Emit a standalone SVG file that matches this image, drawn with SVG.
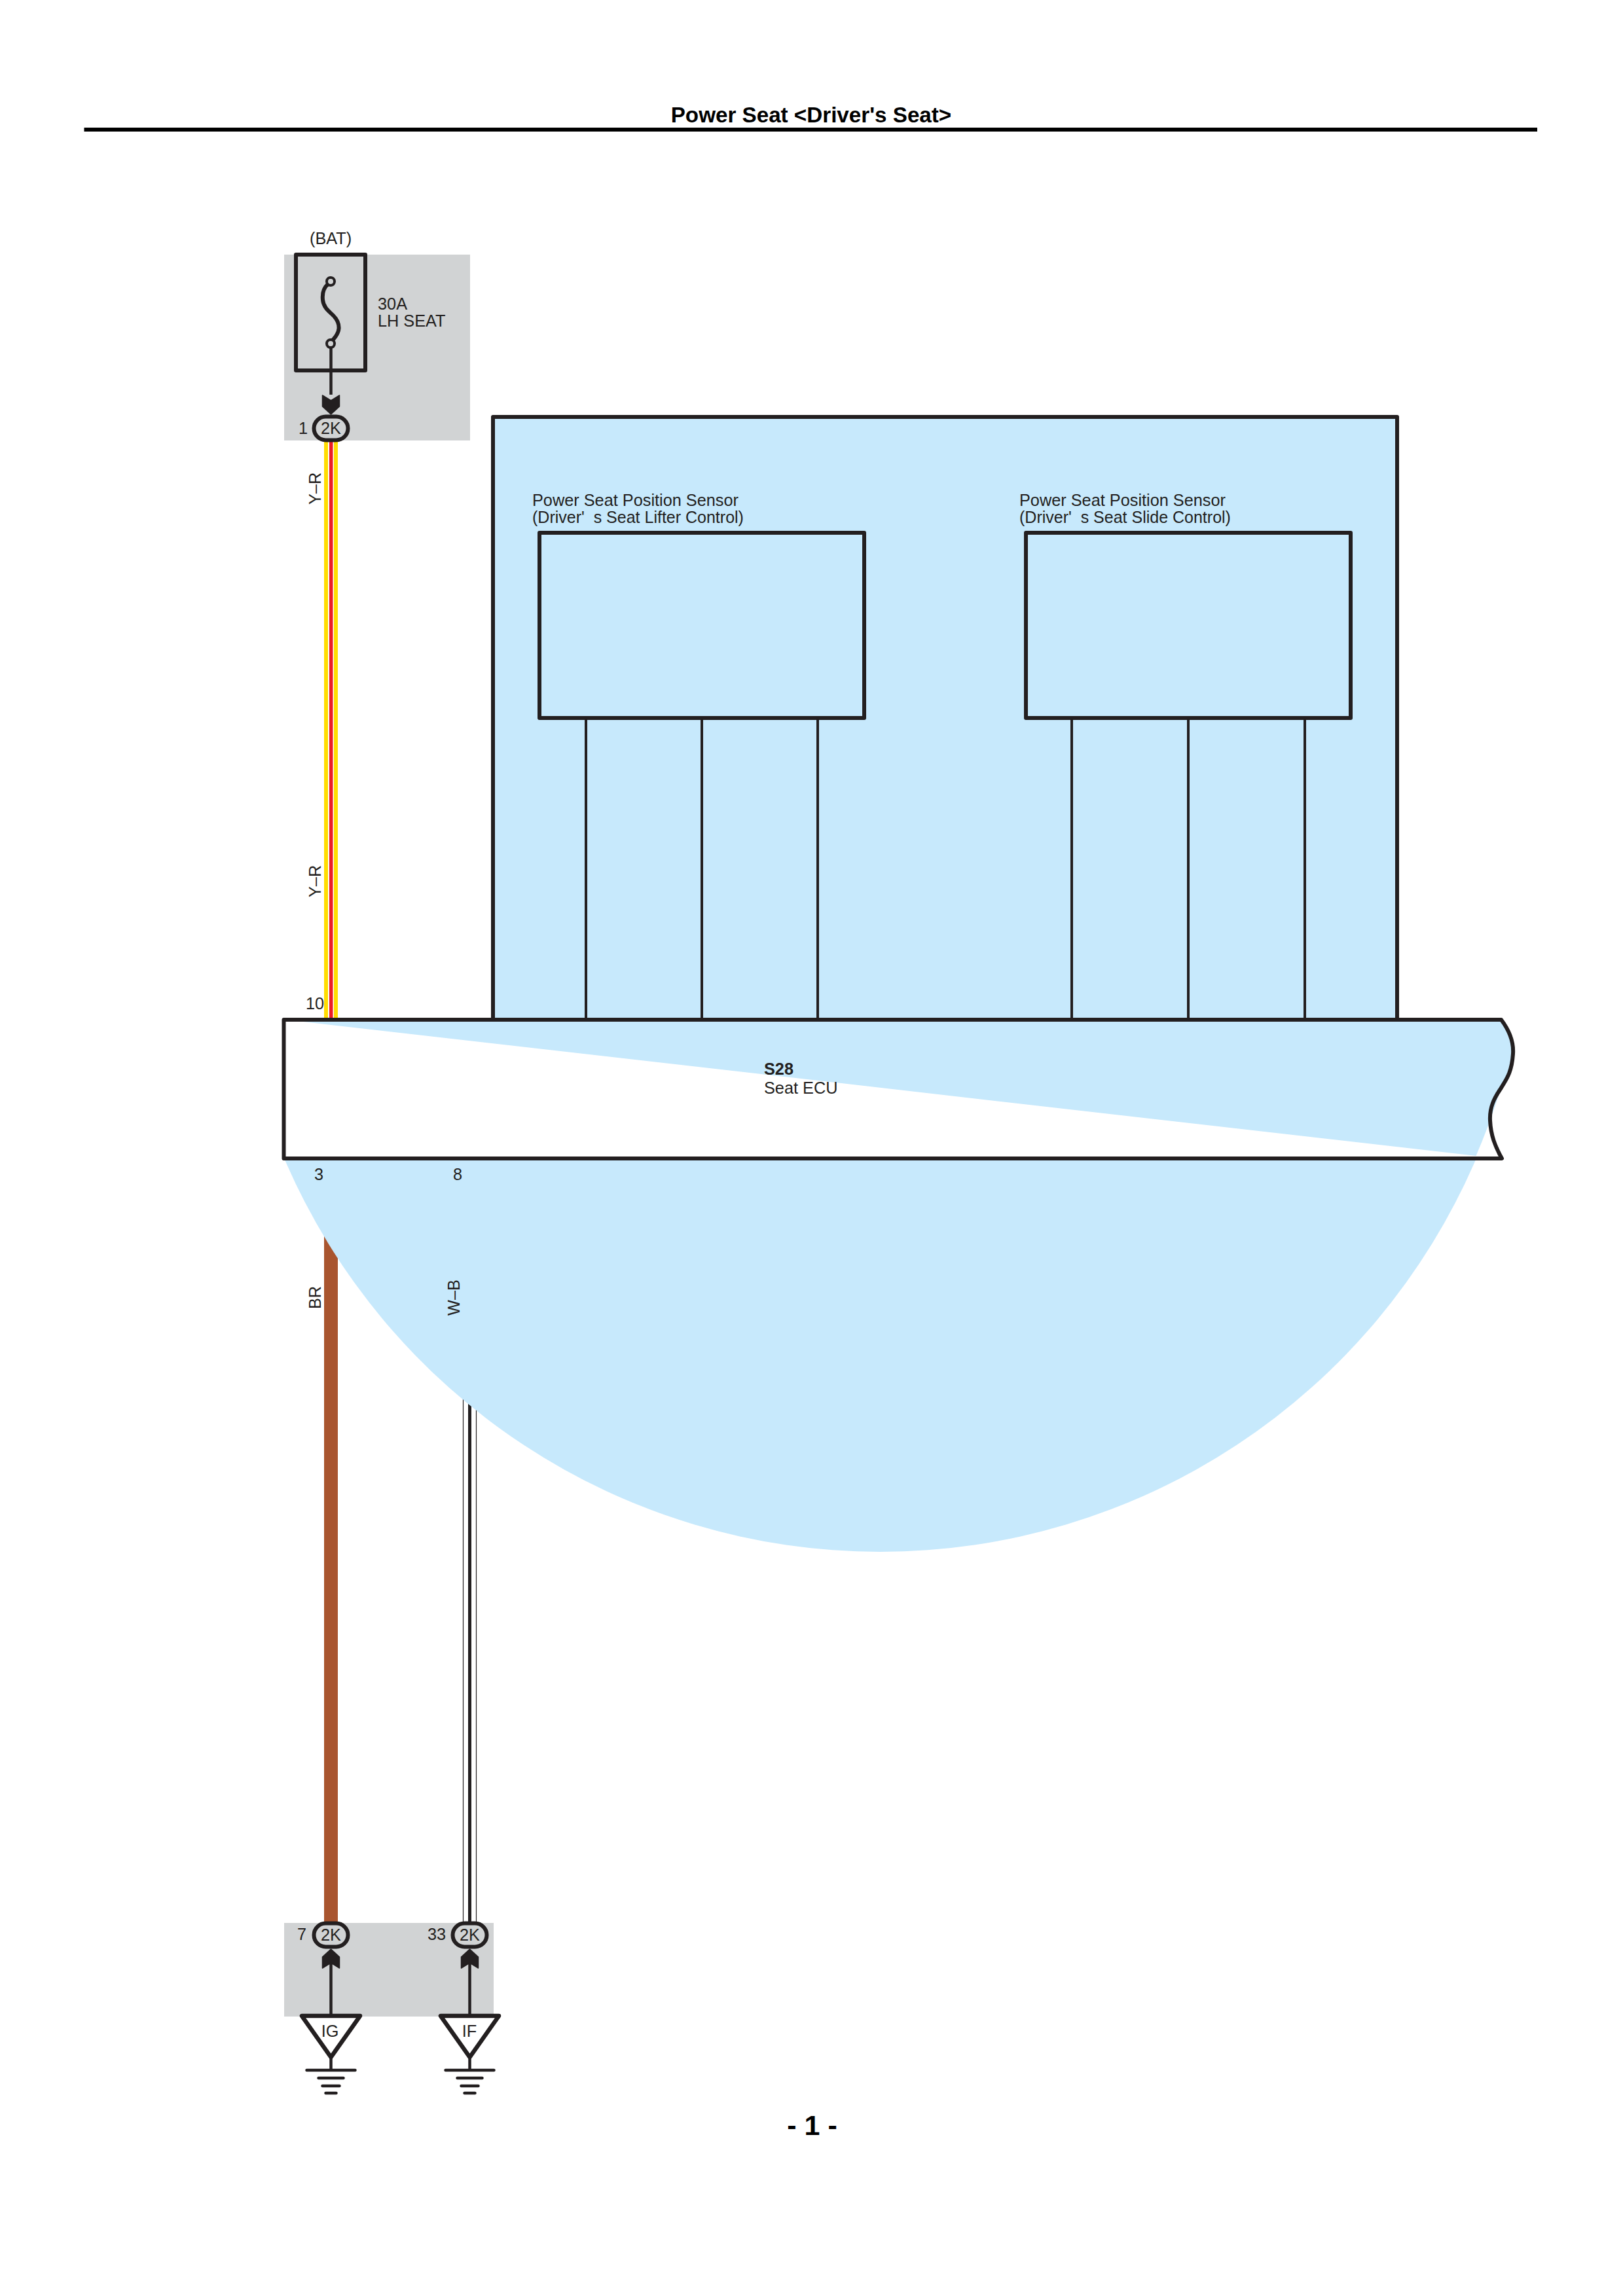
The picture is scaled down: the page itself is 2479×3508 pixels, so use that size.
<svg xmlns="http://www.w3.org/2000/svg" width="2479" height="3508" viewBox="0 0 2479 3508">
<style>
text{font-family:"Liberation Sans",Arial,sans-serif;font-size:25.300px;fill:#231F20;white-space:pre}
.b{font-weight:bold}
.m{text-anchor:middle}
.s{font-size:25px}
.k{fill:none;stroke:#231F20;stroke-width:6;stroke-linejoin:round}
.t{fill:none;stroke:#231F20;stroke-width:4}
.w{fill:none;stroke:#231F20;stroke-width:4.500}
.g{fill:none;stroke:#231F20;stroke-width:4.500;stroke-linecap:round}
.bl{fill:#C7E9FC}
.gr{fill:#D1D3D4}
.c{fill:#231F20;stroke:#231F20;stroke-width:1.500;stroke-linejoin:round}
</style>
<defs>
<g id="gnd">
<path class="w" d="M0,0V21"/>
<path class="g" d="M-37,21H37M-19,33H19M-13,45H13M-8,56H8"/>
</g>
<g id="plug">
<rect x="-26" y="-18" width="52" height="36" rx="18" fill="none" stroke="#231F20" stroke-width="6"/>
<text class="m" x="0" y="8.500">2K</text>
</g>
</defs>
<rect width="2479" height="3508" fill="#fff"/>
<g id="title">
<text class="b m" x="1239" y="187" style="font-size:33.200px;fill:#000">Power Seat &lt;Driver's Seat&gt;</text>
<rect x="128.500" y="195" width="2219.500" height="6" fill="#000"/>
</g>
<rect class="gr" x="434" y="389" width="284" height="284"/>
<rect class="gr" x="434" y="2938" width="320" height="143"/>
<g id="connectors">
<path d="M498,673V1556M513,673V1556" stroke="#FFDD00" stroke-width="6" fill="none"/>
<path d="M505.700,673V1556" stroke="#ED1C24" stroke-width="5.500" fill="none"/>
<path d="M505.500,1770V2938" stroke="#A9552F" stroke-width="21" fill="none"/>
<path d="M707.500,1770V2938M727.500,1770V2938" stroke="#231F20" stroke-width="1.200" fill="none"/>
<path d="M717.500,1770V2938" stroke="#231F20" stroke-width="5" fill="none"/>
<path class="w" d="M505.500,525V603"/>
<path class="w" d="M505.500,3000V3080M717.500,3000V3080"/>
</g>
<g id="ecu-fill">
<path class="bl" d="M463,1561L2295,1561C2310,1580 2312,1600 2311,1612C2310,1640 2300,1652 2291,1667A990,990 0 0 1 2254.500,1766Z"/>
<path class="bl" d="M435,1772L2254,1772A990,990 0 0 1 435,1772Z"/>
</g>
<g id="sensor-block">
<rect class="bl k" x="753" y="637" width="1381" height="921" style="fill:#C7E9FC"/>
<path class="t" d="M895,1097V1558M1072,1097V1558M1249,1097V1558M1637,1097V1558M1815,1097V1558M1993,1097V1558"/>
</g>
<g id="sensor-lifter">
<rect class="k" x="824" y="814" width="496" height="283"/>
<text x="813" y="773">Power Seat Position Sensor</text>
<text class="s" x="813" y="799">(Driver'  s Seat Lifter Control)</text>
</g>
<g id="sensor-slide">
<rect class="k" x="1567" y="814" width="496" height="283"/>
<text x="1557" y="773">Power Seat Position Sensor</text>
<text class="s" x="1557" y="799">(Driver'  s Seat Slide Control)</text>
</g>
<g id="ecu">
<path class="k" d="M433.500,1558H2293C2308,1578 2312,1595 2311,1610C2309,1640 2300,1650 2293,1662C2282,1678 2275,1692 2276,1712C2277,1735 2284,1752 2294,1770H433.500Z"/>
<text class="b" x="1167" y="1642">S28</text>
<text x="1167" y="1671">Seat ECU</text>
<text x="467" y="1542">10</text>
<text x="480" y="1803">3</text>
<text x="692" y="1803">8</text>
</g>
<g id="wire-labels">
<text transform="translate(490,771) rotate(-90)">Y–R</text>
<text transform="translate(490,1371) rotate(-90)">Y–R</text>
<text transform="translate(490,2000) rotate(-90)">BR</text>
<text transform="translate(702,2010) rotate(-90)">W–B</text>
</g>
<g id="fuse">
<rect class="k" x="452" y="389" width="106" height="177"/>
<path fill="none" stroke="#231F20" stroke-width="6" d="M501,434C494,440 492,448 493,458C494,470 503,476 509,482C515,488 518,494 517.500,502C517,510 511,517 505,523"/>
<circle cx="505" cy="430" r="6" fill="#D1D3D4" stroke="#231F20" stroke-width="4"/>
<circle cx="505" cy="525" r="6" fill="#D1D3D4" stroke="#231F20" stroke-width="4"/>
<text x="473" y="373">(BAT)</text>
<text x="577" y="473">30A</text>
<text x="577" y="499">LH SEAT</text>
</g>
<g id="conn-1">
<path class="c" d="M492.500,604L505.500,612L518.500,604V621L505.500,633L492.500,621Z"/>
<use href="#plug" x="505.500" y="654.500"/>
<text x="456" y="663">1</text>
</g>
<g id="conn-7">
<use href="#plug" x="505.500" y="2956.500"/>
<path class="c" d="M505.500,2978L518.500,2990V3007L505.500,2999L492.500,3007V2990Z"/>
<text x="454" y="2964">7</text>
</g>
<g id="conn-33">
<use href="#plug" x="717.500" y="2956.500"/>
<path class="c" d="M717.500,2978L730.500,2990V3007L717.500,2999L704.500,3007V2990Z"/>
<text x="653" y="2964">33</text>
</g>
<g id="ground-ig">
<path d="M461,3080H550L505.500,3143Z" fill="#fff" stroke="#231F20" stroke-width="6.500" stroke-linejoin="round"/>
<text class="m" x="504" y="3112">IG</text>
<use href="#gnd" x="505.500" y="3142"/>
</g>
<g id="ground-if">
<path d="M673,3080H762L717.500,3143Z" fill="#fff" stroke="#231F20" stroke-width="6.500" stroke-linejoin="round"/>
<text class="m" x="717" y="3112">IF</text>
<use href="#gnd" x="717.500" y="3142"/>
</g>
<text class="b m" x="1240.500" y="3262" style="font-size:43px;fill:#000">- 1 -</text>
</svg>
